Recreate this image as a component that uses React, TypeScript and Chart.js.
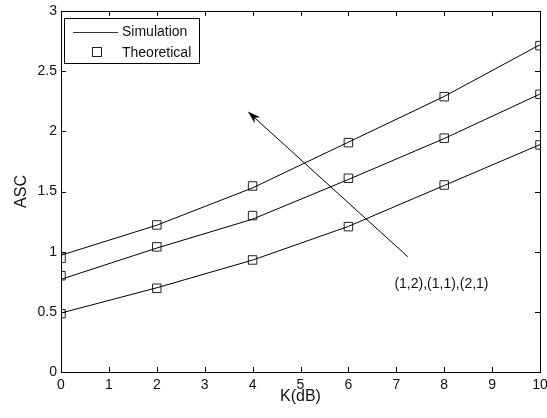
import React, { useEffect, useRef } from "react";
import { Chart, registerables } from "chart.js";

Chart.register(...registerables);

const K_DB = [0, 2, 4, 6, 8, 10];
const SIM_12 = [0.97, 1.22, 1.53, 1.91, 2.29, 2.72];
const SIM_11 = [0.77, 1.03, 1.27, 1.6, 1.94, 2.31];
const SIM_21 = [0.49, 0.7, 0.93, 1.21, 1.55, 1.89];
const THEO_12 = [0.945, 1.222, 1.546, 1.906, 2.288, 2.712];
const THEO_11 = [0.8, 1.04, 1.3, 1.61, 1.943, 2.308];
const THEO_21 = [0.485, 0.696, 0.931, 1.208, 1.554, 1.887];

const X_TICKS = [0, 1, 2, 3, 4, 5, 6, 7, 8, 9, 10];
const Y_TICKS = [0, 0.5, 1, 1.5, 2, 2.5, 3];

const ARROW_FROM = { x: 7.24, y: 0.958 };
const ARROW_TO = { x: 3.9, y: 2.164 };
const NOTE = "(1,2),(1,1),(2,1)";
const NOTE_POS = { x: 6.96, y: 0.73 };
const LEGEND_LABELS = ["Simulation", "Theoretical"];

const FONT = '"Liberation Sans", Arial, sans-serif';

const pts = (ys: number[]) => K_DB.map((x, i) => ({ x, y: ys[i] }));

const simDs = (ys: number[]) => ({
  data: pts(ys),
  borderColor: "#000",
  borderWidth: 1,
  pointRadius: 0,
  showLine: true,
  fill: false,
  tension: 0,
});
const theoDs = (ys: number[]) => ({
  data: pts(ys),
  borderColor: "#000",
  backgroundColor: "rgba(0,0,0,0)",
  pointBorderColor: "#222",
  pointBackgroundColor: "rgba(0,0,0,0)",
  pointBorderWidth: 1,
  pointStyle: "rect",
  pointRadius: 6,
  showLine: false,
});

const overlay = {
  id: "overlay",
  afterDraw(chart: any) {
    const { ctx, chartArea: a, scales } = chart;
    const xs = scales.x;
    const ys = scales.y;
    ctx.save();
    ctx.strokeStyle = "#000";
    ctx.lineWidth = 1;
    // frame
    ctx.strokeRect(Math.round(a.left) + 0.5, Math.round(a.top) + 0.5, Math.round(a.right - a.left), Math.round(a.bottom - a.top));
    // inward ticks
    const tl = 5;
    ctx.beginPath();
    X_TICKS.forEach((t) => {
      const px = Math.round(xs.getPixelForValue(t)) + 0.5;
      ctx.moveTo(px, a.bottom);
      ctx.lineTo(px, a.bottom - tl);
      ctx.moveTo(px, a.top);
      ctx.lineTo(px, a.top + tl);
    });
    Y_TICKS.forEach((t) => {
      const py = Math.round(ys.getPixelForValue(t)) + 0.5;
      ctx.moveTo(a.left, py);
      ctx.lineTo(a.left + tl, py);
      ctx.moveTo(a.right, py);
      ctx.lineTo(a.right - tl, py);
    });
    ctx.stroke();

    // arrow
    const x1 = xs.getPixelForValue(ARROW_FROM.x);
    const y1 = ys.getPixelForValue(ARROW_FROM.y);
    const x2 = xs.getPixelForValue(ARROW_TO.x);
    const y2 = ys.getPixelForValue(ARROW_TO.y);
    const ang = Math.atan2(y2 - y1, x2 - x1);
    const hl = 13;
    const hw = 4;
    ctx.beginPath();
    ctx.moveTo(x1, y1);
    ctx.lineTo(x2 - Math.cos(ang) * 8, y2 - Math.sin(ang) * 8);
    ctx.stroke();
    const bx = x2 - Math.cos(ang) * hl;
    const by = y2 - Math.sin(ang) * hl;
    const mx = x2 - Math.cos(ang) * (hl - 4);
    const my = y2 - Math.sin(ang) * (hl - 4);
    ctx.beginPath();
    ctx.moveTo(x2, y2);
    ctx.lineTo(bx + Math.sin(ang) * hw, by - Math.cos(ang) * hw);
    ctx.lineTo(mx, my);
    ctx.lineTo(bx - Math.sin(ang) * hw, by + Math.cos(ang) * hw);
    ctx.closePath();
    ctx.fillStyle = "#000";
    ctx.fill();

    // annotation
    ctx.font = `14px ${FONT}`;
    ctx.fillStyle = "#111";
    ctx.textAlign = "left";
    ctx.textBaseline = "middle";
    ctx.fillText(NOTE, xs.getPixelForValue(NOTE_POS.x), ys.getPixelForValue(NOTE_POS.y));

    // legend
    const lx = a.left + 3;
    const ly = a.top + 7;
    const lw = 135;
    const lh = 45;
    ctx.fillStyle = "#fff";
    ctx.fillRect(lx, ly, lw, lh);
    ctx.strokeStyle = "#000";
    ctx.strokeRect(Math.round(lx) + 0.5, Math.round(ly) + 0.5, lw, lh);
    const r1 = ly + 14;
    const r2 = ly + 35;
    ctx.beginPath();
    ctx.moveTo(lx + 9, Math.round(r1) + 0.5);
    ctx.lineTo(lx + 54, Math.round(r1) + 0.5);
    ctx.strokeStyle = "#333";
    ctx.stroke();
    ctx.strokeStyle = "#222";
    ctx.strokeRect(Math.round(lx + 32) - 4 + 0.5, Math.round(r2) - 6 + 0.5, 9, 9);
    ctx.fillStyle = "#111";
    ctx.fillText(LEGEND_LABELS[0], lx + 58, r1);
    ctx.fillText(LEGEND_LABELS[1], lx + 58, r2);
    ctx.restore();
  },
};

export default function App() {
  const ref = useRef<HTMLCanvasElement>(null);
  useEffect(() => {
    if (!ref.current) return;
    const chart = new Chart(ref.current, {
      type: "scatter",
      data: {
        datasets: [
          simDs(SIM_12),
          simDs(SIM_11),
          simDs(SIM_21),
          theoDs(THEO_12),
          theoDs(THEO_11),
          theoDs(THEO_21),
        ] as any,
      },
      options: {
        animation: false,
        responsive: false,
        maintainAspectRatio: false,
        layout: { padding: { top: 11, right: 6, left: 0, bottom: 0 } },
        plugins: { legend: { display: false }, tooltip: { enabled: false } },
        scales: {
          x: {
            type: "linear",
            min: 0,
            max: 10,
            afterFit: (s: any) => {
              s.height = 46;
              s.paddingLeft = 0;
              s.paddingRight = 0;
            },
            afterBuildTicks: (s: any) => {
              s.ticks = X_TICKS.map((v) => ({ value: v }));
            },
            grid: { display: false, drawTicks: false },
            border: { display: false },
            ticks: {
              color: "#111",
              font: { family: FONT, size: 14 },
              padding: 5,
              maxRotation: 0,
              callback: (v: any) => String(v),
            },
            title: {
              display: true,
              text: "K(dB)",
              color: "#111",
              font: { family: FONT, size: 16 },
              padding: { top: 0, bottom: 12 },
            },
          },
          y: {
            type: "linear",
            min: 0,
            max: 3,
            afterFit: (s: any) => {
              s.width = 61;
              s.paddingTop = 0;
              s.paddingBottom = 0;
            },
            afterBuildTicks: (s: any) => {
              s.ticks = Y_TICKS.map((v) => ({ value: v }));
            },
            grid: { display: false, drawTicks: false },
            border: { display: false },
            ticks: {
              color: "#111",
              font: { family: FONT, size: 14 },
              padding: 4,
              callback: (v: any) => String(v),
            },
            title: {
              display: true,
              text: "ASC",
              color: "#111",
              font: { family: FONT, size: 16 },
              padding: { top: 12, bottom: 0 },
            },
          },
        },
      },
      plugins: [overlay],
    });
    return () => chart.destroy();
  }, []);
  return (
    <div style={{ position: "fixed", left: 0, top: 0, width: 547, height: 418, background: "#fff" }}>
      <canvas ref={ref} width={547} height={418} style={{ width: 547, height: 418 }} />
    </div>
  );
}
